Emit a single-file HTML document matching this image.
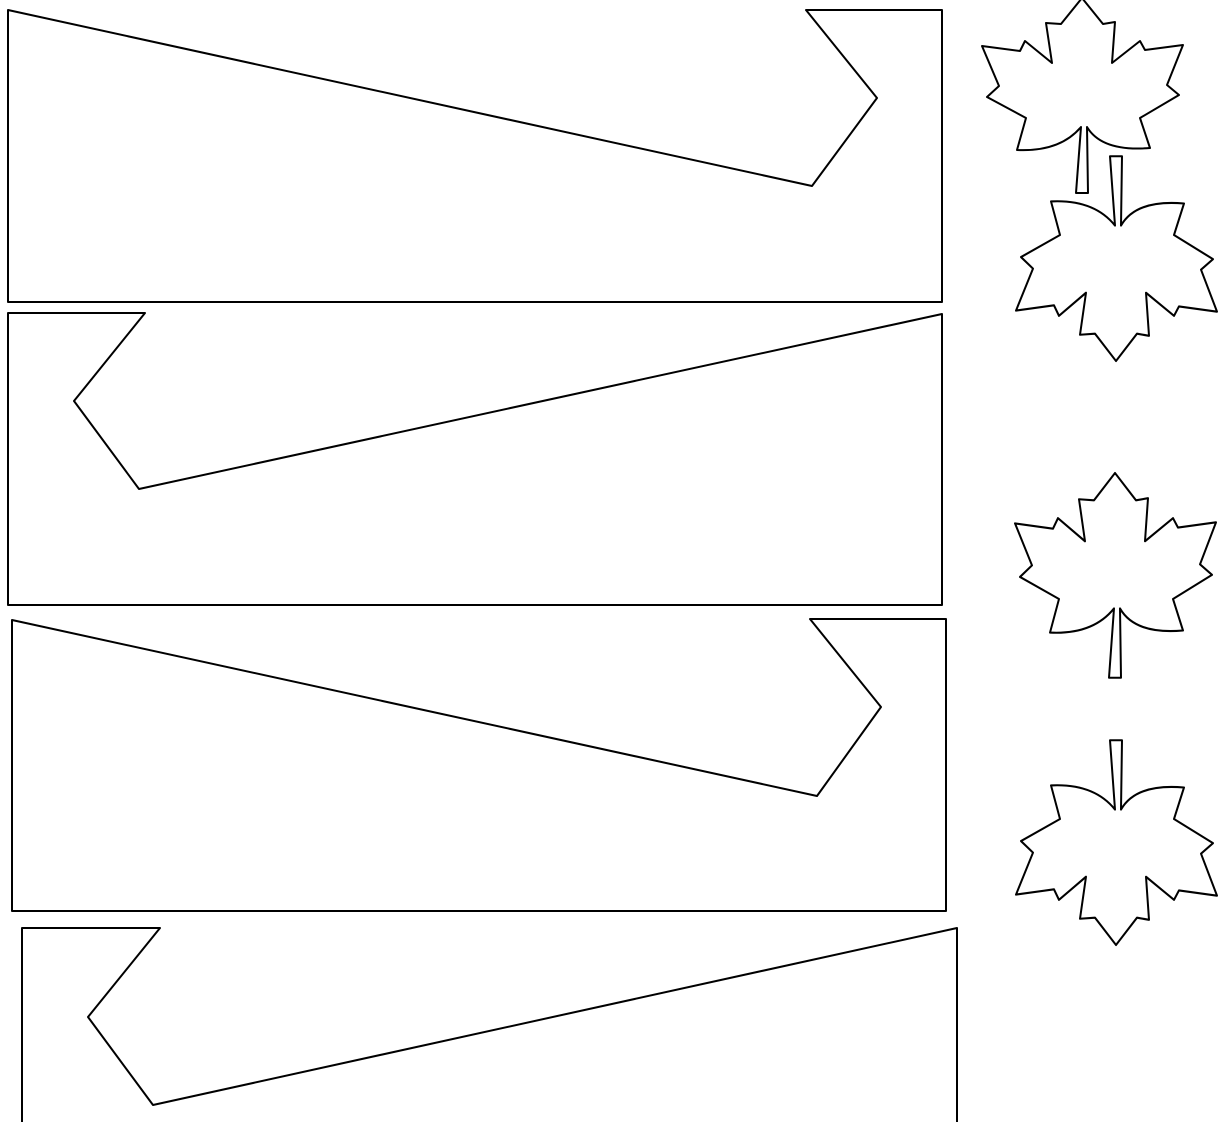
<!DOCTYPE html>
<html><head><meta charset="utf-8"><style>html,body{margin:0;padding:0;background:#fff;width:1226px;height:1122px;overflow:hidden}</style></head>
<body>
<svg width="1226" height="1122" viewBox="0 0 1226 1122" xmlns="http://www.w3.org/2000/svg">
<defs>
<path id="leaf" d="M0,0 L21,26 L33,24 L30,65 L58,43 L63,52 L101,47 L85,87 L97,97 L58,120 L68,150 Q20,154 5,129 L6,195 L-6,195 L-1,129 Q-22,154 -65,152 L-56,120 L-95,99 L-83,88 L-100,48 L-62,53 L-57,43 L-30,65 L-36,25 L-21,26 Z" fill="none" stroke="#000" stroke-width="2" stroke-linejoin="round"/>
</defs>
<g fill="none" stroke="#000" stroke-width="2" stroke-linejoin="round">
<path d="M8,10 L812,186 L877,98 L806,10 L942,10 L942,302 L8,302 Z"/>
<path d="M8,313 L145,313 L74,401 L139,489 L942,314 L942,605 L8,605 Z"/>
<path d="M12,620 L817,796 L881,707 L810,619 L946,619 L946,911 L12,911 Z"/>
<path d="M22,1124 L22,928 L160,928 L88,1017 L153,1105 L957,928 L957,1124"/>
</g>
<use href="#leaf" transform="translate(1082,-2)"/>
<use href="#leaf" transform="translate(1116,361) scale(1,-1.05)"/>
<use href="#leaf" transform="translate(1115,473) scale(1,1.05)"/>
<use href="#leaf" transform="translate(1116,945) scale(1,-1.05)"/>
</svg>
</body></html>
